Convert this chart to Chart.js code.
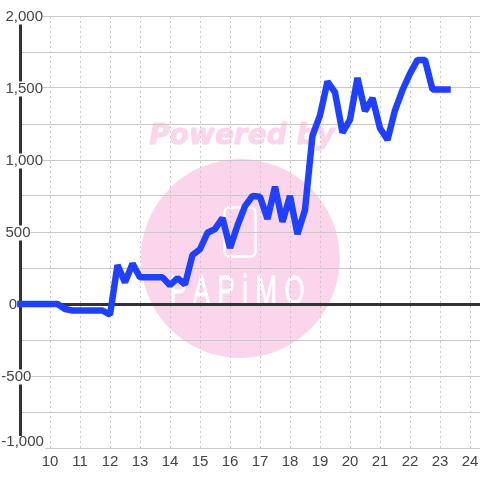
<!DOCTYPE html>
<html><head><meta charset="utf-8">
<style>html,body{margin:0;padding:0;background:#fff}canvas{display:block}</style>
<script src="https://cdn.jsdelivr.net/npm/chart.js@4"></script>
</head><body><canvas id="c" width="480" height="480"></canvas>
<script>
const hours = [9,9.25,9.5,9.75,10,10.25,10.5,10.75,11,11.25,11.5,11.75,12,12.25,12.5,12.75,13,13.25,13.5,13.75,14,14.25,14.5,14.75,15,15.25,15.5,15.75,16,16.25,16.5,16.75,17,17.25,17.5,17.75,18,18.25,18.5,18.75,19,19.25,19.5,19.75,20,20.25,20.5,20.75,21,21.25,21.5,21.75,22,22.25,22.5,22.75,23,23.25];
const values = [0,0,0,0,0,0,-35,-45,-45,-45,-45,-45,-75,270,150,280,185,185,185,185,130,180,135,340,380,495,520,597,390,545,680,750,745,590,815,570,750,485,655,1170,1310,1545,1470,1190,1280,1570,1340,1430,1220,1140,1345,1486,1600,1695,1695,1490,1490,1490];
const xTicks = [10,11,12,13,14,15,16,17,18,19,20,21,22,23,24];
const watermarkTop = 'Powered by';
const watermarkName = 'PAPiMO';
const labelFont = {family:'"Liberation Sans"', size:15, lineHeight:1};

const watermark = {
  id:'watermark',
  beforeDraw(chart){
    const c = chart.ctx;
    c.save();
    c.fillStyle='#fbd5ec'; c.strokeStyle='#fbd5ec';
    c.beginPath(); c.arc(240.3,258.5,99.5,0,Math.PI*2); c.fill();
    c.font='italic bold 28px "DejaVu Sans"';
    c.textAlign='center'; c.textBaseline='alphabetic';
    c.lineWidth=1; c.lineJoin='round';
    c.fillText(watermarkTop,242,144);
    c.strokeText(watermarkTop,242,144);
    c.strokeStyle='#fff'; c.lineWidth=2.4;
    c.beginPath(); c.roundRect(224.5,207.5,31,49,5); c.stroke();
    c.fillStyle='#fff'; c.strokeStyle='#fff'; c.lineWidth=0.8;
    c.translate(241,304); c.scale(0.63,1);
    c.font='41px "Liberation Sans"';
    c.letterSpacing='12px';
    c.fillText(watermarkName,0,0);
    c.strokeText(watermarkName,0,0);
    c.restore();
  },
  afterDatasetsDraw(chart){
    // white plate behind the raised bottom label (the label itself is drawn above it)
    const c = chart.ctx, py = chart.scales.y.getPixelForValue(-1000);
    c.save(); c.fillStyle='#fff'; c.fillRect(0,py-12,45,15); c.restore();
  }
};

new Chart(document.getElementById('c'),{
  type:'line',
  data:{labels:hours,datasets:[{
    data:hours.map((h,i)=>({x:h,y:values[i]})),
    borderColor:'#2040ff',borderWidth:6.5,pointRadius:0,tension:0,
    borderCapStyle:'square',borderJoinStyle:'bevel',clip:false,fill:false
  }]},
  plugins:[watermark],
  options:{
    responsive:false,animation:false,devicePixelRatio:1,
    layout:{padding:{top:16,left:0,right:0,bottom:0}},
    plugins:{legend:{display:false},tooltip:{enabled:false},title:{display:false}},
    scales:{
      x:{type:'linear',min:9,max:24.3333,
        afterBuildTicks(s){s.ticks=[{value:9}].concat(xTicks.map(v=>({value:v})));},
        afterFit(s){s.height=32;s.paddingLeft=0;s.paddingRight=0;},
        grid:{color:'#c8c8c8',lineWidth:1,drawTicks:false},
        border:{display:false,dash:[2,3]},
        ticks:{color:'#444',font:labelFont,padding:6,maxRotation:0,autoSkip:false,includeBounds:false,
          callback:v=>v===9?'':String(v)}
      },
      y:{type:'linear',min:-1000,max:2000,position:'left',
        afterFit(s){s.width=20;s.paddingTop=0;s.paddingBottom=0;},
        grid:{
          color:c=>c.tick.value===0?'#333':'#c8c8c8',
          lineWidth:c=>c.tick.value===0?3:1,
          drawTicks:false
        },
        border:{display:true,color:'#333',width:3},
        ticks:{stepSize:250,color:'#444',font:labelFont,mirror:true,crossAlign:'near',padding:-18.7,
          labelOffset:1,autoSkip:false,includeBounds:true,z:1,
          showLabelBackdrop:c=>c.tick.value%500===0 && c.tick.value!==-1000,
          backdropColor:'#fff',
          backdropPadding:c=>c.tick.value===0
            ?{left:0,right:0,top:1,bottom:0}
            :{left:0,right:2,top:1,bottom:0},
          callback:v=>{
            if(v%500!==0) return '';
            const t=Math.abs(v).toLocaleString('en-US');
            if(v===-1000) return ['-'+t,''];
            if(v<0) return '-'+t;
            return v===0?'\u2002'+t:'\u00a0'+t;
          }}
      }
    }
  }
});
</script></body></html>
